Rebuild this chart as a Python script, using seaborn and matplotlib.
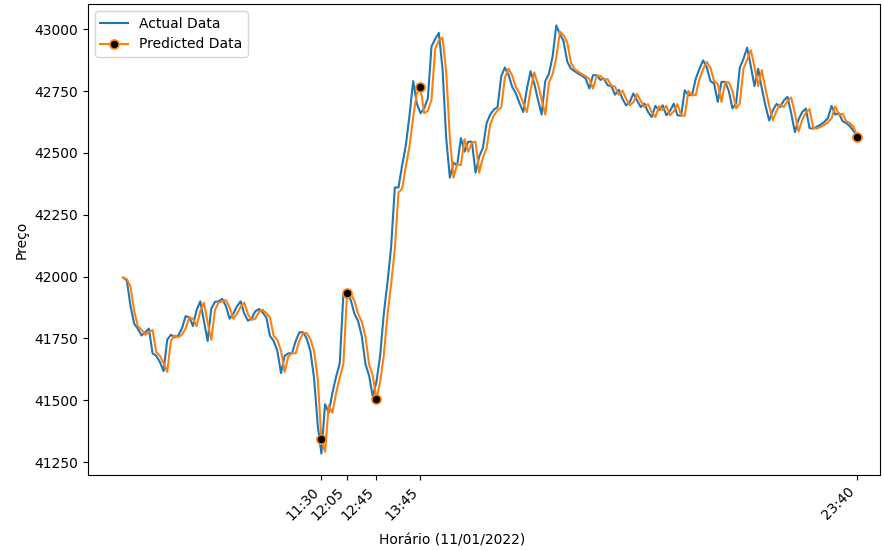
import pandas as pd
import numpy as np
import seaborn as sns
from matplotlib import pyplot as plt

# horario (11/01/2022), uma amostra a cada 5 minutos
start_time = '2022-01-11 07:00'
end_time = '2022-01-11 23:40'

actual = [
    41996, 41984, 41880, 41810, 41789, 41762, 41775, 41790, 41690, 41680,
    41655, 41618, 41745, 41765, 41755, 41762, 41790, 41840, 41836, 41800,
    41865, 41900, 41820, 41740, 41870, 41898, 41900, 41910, 41880, 41830,
    41850, 41880, 41900, 41850, 41822, 41830, 41860, 41869, 41855, 41835,
    41760, 41740, 41700, 41610, 41680, 41690, 41690, 41740, 41775, 41775,
    41750, 41700, 41590, 41400, 41285, 41484, 41450, 41530, 41595, 41650,
    41930, 41935, 41905, 41850, 41820, 41760, 41647, 41600, 41515, 41575,
    41680, 41850, 41975, 42120, 42360, 42360, 42450, 42530, 42650, 42790,
    42700, 42660, 42680, 42720, 42930, 42960, 42985, 42840, 42560, 42400,
    42460, 42450, 42560, 42505, 42545, 42545, 42420, 42485, 42520, 42620,
    42655, 42675, 42685, 42810, 42845, 42815, 42766, 42740, 42700, 42665,
    42760, 42830, 42780, 42715, 42655, 42790, 42820, 42890, 43015, 42980,
    42950, 42868, 42840, 42830, 42820, 42812, 42800, 42760, 42814, 42814,
    42795, 42800, 42773, 42770, 42735, 42755, 42720, 42692, 42705, 42740,
    42712, 42685, 42699, 42665, 42645, 42690, 42672, 42692, 42652, 42670,
    42699, 42652, 42650, 42753, 42733, 42735, 42800, 42840, 42874, 42845,
    42790, 42780, 42706, 42787, 42787, 42750, 42680, 42700, 42845, 42880,
    42925, 42850, 42770, 42840, 42760, 42690, 42631, 42672, 42698, 42685,
    42712, 42726, 42660, 42584, 42635, 42665, 42679, 42600, 42598, 42606,
    42614, 42625, 42640, 42690, 42655, 42660, 42628, 42620, 42608, 42588,
    42566,
]

predicted = [
    41996, 41990, 41960, 41860, 41800, 41785, 41765, 41775, 41785, 41695,
    41680, 41650, 41615, 41740, 41762, 41755, 41765, 41790, 41835, 41830,
    41800, 41860, 41895, 41815, 41745, 41865, 41895, 41900, 41905, 41875,
    41830, 41850, 41878, 41895, 41848, 41825, 41830, 41858, 41866, 41852,
    41835, 41760, 41745, 41700, 41615, 41678, 41690, 41690, 41740, 41772,
    41772, 41748, 41700, 41590, 41342, 41292, 41480, 41450, 41528, 41592,
    41648, 41935, 41930, 41902, 41850, 41818, 41758, 41645, 41600, 41504,
    41575, 41680, 41845, 41970, 42110, 42340, 42355, 42445, 42525, 42645,
    42740, 42765, 42660, 42670, 42715, 42920, 42955, 42965, 42830, 42560,
    42400, 42455, 42450, 42555, 42505, 42540, 42545, 42420, 42480, 42518,
    42615, 42652, 42672, 42683, 42805, 42840, 42812, 42765, 42740, 42700,
    42665, 42755, 42825, 42778, 42715, 42655, 42785, 42818, 42885, 42990,
    42975, 42945, 42865, 42838, 42828, 42818, 42810, 42798, 42760, 42810,
    42812, 42795, 42798, 42772, 42768, 42735, 42752, 42720, 42692, 42705,
    42738, 42710, 42685, 42697, 42665, 42645, 42688, 42672, 42690, 42652,
    42668, 42697, 42652, 42650, 42750, 42732, 42735, 42798, 42838, 42868,
    42843, 42790, 42778, 42706, 42785, 42785, 42750, 42680, 42700, 42840,
    42878, 42915, 42848, 42770, 42835, 42758, 42690, 42632, 42670, 42696,
    42685, 42710, 42724, 42660, 42586, 42633, 42663, 42677, 42600, 42598,
    42605, 42613, 42624, 42640, 42688, 42655, 42658, 42628, 42620, 42606,
    42565,
]

# horarios marcados no grafico
tick_labels = ['11:30', '12:05', '12:45', '13:45', '23:40']

times = pd.date_range(start_time, end_time, freq='5min')
df = pd.DataFrame({'time': times, 'actual': actual, 'predicted': predicted})

tick_times = pd.to_datetime(['2022-01-11 ' + t for t in tick_labels])
mark_idx = [int(np.where(times == t)[0][0]) for t in tick_times]

fig, ax = plt.subplots(figsize=(8.84, 5.51), dpi=100)
fig.subplots_adjust(left=0.0995, right=0.9955, top=0.9927, bottom=0.138)

sns.lineplot(x='time', y='actual', data=df, ax=ax, color='C0', label='Actual Data')
sns.lineplot(x='time', y='predicted', data=df, ax=ax, color='C1', label='Predicted Data',
             marker='o', markevery=mark_idx, markerfacecolor='black',
             markeredgecolor='C1', markeredgewidth=1.2, markersize=6.5)

ax.set_xlim(times[0] - pd.Timedelta(minutes=48), times[-1] + pd.Timedelta(minutes=31))
ax.set_xticks(tick_times)
ax.set_xticklabels(tick_labels, rotation=45, ha='right')

ax.set_xlabel('Horário (11/01/2022)')
ax.xaxis.set_label_coords(0.46, -0.125)
ax.set_ylabel('Preço')
ax.legend(loc='upper left')

plt.savefig('out.png', dpi=100)
